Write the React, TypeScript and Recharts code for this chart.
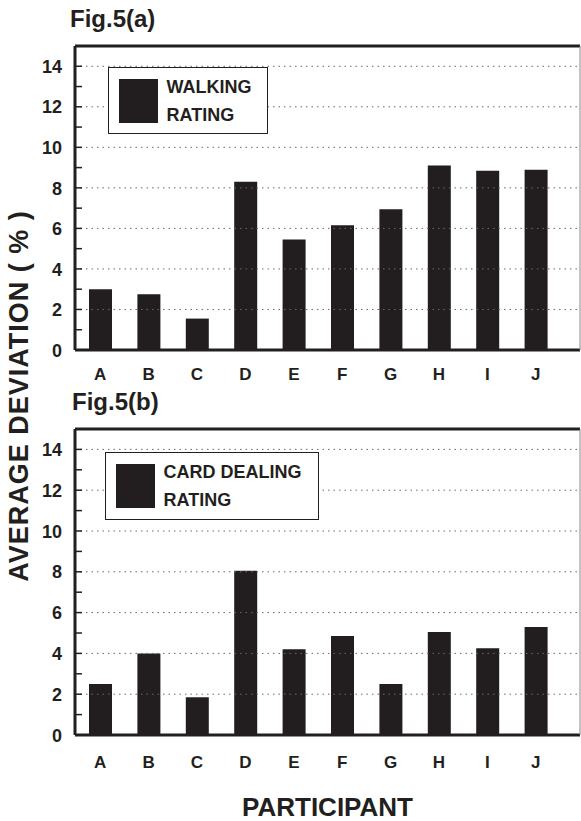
import * as React from 'react'
import { BarChart, Bar, XAxis, YAxis, ReferenceLine, Legend } from 'recharts'

const participants = ['A', 'B', 'C', 'D', 'E', 'F', 'G', 'H', 'I', 'J']
const walkingValues = [3.0, 2.75, 1.55, 8.3, 5.45, 6.15, 6.95, 9.1, 8.85, 8.9]
const cardDealingValues = [2.5, 4.0, 1.85, 8.05, 4.2, 4.85, 2.5, 5.05, 4.25, 5.3]
const yTicks = [0, 1, 2, 3, 4, 5, 6, 7, 8, 9, 10, 11, 12, 13, 14]
const gridValues = [2, 4, 6, 8, 10, 12, 14]
const walkingLegend = ['WALKING', 'RATING']
const cardLegend = ['CARD DEALING', 'RATING']

const ink = '#231f20'
const barColor = '#221d1e'
const font = '"Liberation Sans", Arial, Helvetica, sans-serif'

const walkingData = participants.map((name, i) => ({ name, value: walkingValues[i] }))
const cardData = participants.map((name, i) => ({ name, value: cardDealingValues[i] }))

const YTick = (props: any) => {
	const { x, y, payload } = props
	const v = payload.value
	return (
		<g>
			{v > 0 && <line x1={x + 13} x2={x + 20} y1={y} y2={y} stroke={ink} strokeWidth={1.5} />}
			{v % 2 === 0 && (
				<text x={x} y={y} dy="0.37em" textAnchor="end" fill={ink} fontSize={18} fontWeight={700} fontFamily={font}>
					{v}
				</text>
			)}
		</g>
	)
}

const legendBox = (lines: string[], width: number, height: number) => (props: any) => {
	const color = props.payload && props.payload[0] ? props.payload[0].color : barColor
	return (
		<div
			style={{
				position: 'relative',
				width,
				height,
				boxSizing: 'border-box',
				border: `1.5px solid ${ink}`,
				background: '#fff',
				fontFamily: font,
			}}
		>
			<div style={{ position: 'absolute', left: 10, top: 10.5, width: 39, height: 44, background: color }} />
			<div
				style={{
					position: 'absolute',
					left: 57.5,
					top: 4.5,
					fontSize: 18,
					fontWeight: 700,
					lineHeight: '28px',
					color: ink,
					whiteSpace: 'nowrap',
				}}
			>
				{lines.map((l) => (
					<div key={l}>{l}</div>
				))}
			</div>
		</div>
	)
}

interface PanelProps {
	data: Array<{ name: string; value: number }>
	height: number
	top: number
	tickGap: number
	legendLines: string[]
	legendPos: { left: number; top: number; width: number; height: number }
	name: string
}

const Panel = ({ data, height, top, tickGap, legendLines, legendPos, name }: PanelProps) => (
	<BarChart width={581} height={height} data={data} margin={{ top, right: 0, left: 0, bottom: 0 }} barSize={23}>
		{gridValues.map((g) => (
			<ReferenceLine key={g} yAxisId="left" y={g} stroke="#6a6a6a" strokeWidth={1} strokeDasharray="1.5 4" />
		))}
		<ReferenceLine yAxisId="left" y={15} stroke={ink} strokeWidth={3} />
		<XAxis
			dataKey="name"
			height={40}
			tickLine={false}
			tickSize={0}
			tickMargin={tickGap}
			padding={{ left: 1, right: 20 }}
			axisLine={{ stroke: ink, strokeWidth: 3 }}
			tick={{ fill: ink, fontSize: 17, fontWeight: 700, fontFamily: font }}
		/>
		<YAxis
			yAxisId="left"
			width={75}
			domain={[0, 15]}
			ticks={yTicks}
			interval={0}
			tickLine={false}
			tickSize={0}
			tickMargin={13}
			axisLine={{ stroke: ink, strokeWidth: 3 }}
			tick={<YTick />}
		/>
		<YAxis yAxisId="right" orientation="right" width={1} tick={false} tickLine={false} axisLine={{ stroke: '#888', strokeWidth: 1 }} />
		<Legend
			layout="horizontal"
			verticalAlign="middle"
			align="center"
			content={legendBox(legendLines, legendPos.width, legendPos.height)}
			wrapperStyle={{ left: legendPos.left, top: legendPos.top, width: legendPos.width, height: legendPos.height }}
		/>
		<Bar yAxisId="left" dataKey="value" name={name} fill={barColor} isAnimationActive={false} />
	</BarChart>
)

const titleStyle: React.CSSProperties = {
	position: 'absolute',
	fontFamily: font,
	fontWeight: 700,
	fontSize: 24,
	lineHeight: 1,
	color: ink,
	whiteSpace: 'nowrap',
}

export default function App() {
	return (
		<div style={{ position: 'absolute', left: 0, top: 0, width: 581, height: 821, background: '#fff', overflow: 'hidden' }}>
			<div style={{ ...titleStyle, left: 70, top: 7 }}>Fig.5(a)</div>
			<div style={{ position: 'absolute', left: 0, top: 0 }}>
				<Panel
					data={walkingData}
					height={390}
					top={46}
					tickGap={18}
					legendLines={walkingLegend}
					legendPos={{ left: 108, top: 67, width: 160, height: 67 }}
					name="WALKING RATING"
				/>
			</div>
			<div style={{ ...titleStyle, left: 72, top: 390 }}>Fig.5(b)</div>
			<div style={{ position: 'absolute', left: 0, top: 390 }}>
				<Panel
					data={cardData}
					height={385}
					top={39}
					tickGap={21}
					legendLines={cardLegend}
					legendPos={{ left: 105, top: 62, width: 214, height: 68 }}
					name="CARD DEALING RATING"
				/>
			</div>
			<div
				style={{
					position: 'absolute',
					left: 19,
					top: 396,
					transform: 'translate(-50%, -50%) rotate(-90deg)',
					fontFamily: font,
					fontWeight: 700,
					fontSize: 27,
					letterSpacing: 1,
					lineHeight: 1,
					color: ink,
					whiteSpace: 'nowrap',
				}}
			>
				AVERAGE DEVIATION ( % )
			</div>
			<div
				style={{
					position: 'absolute',
					left: 75,
					width: 505,
					top: 794,
					textAlign: 'center',
					fontFamily: font,
					fontWeight: 700,
					fontSize: 26,
					lineHeight: 1,
					color: ink,
				}}
			>
				PARTICIPANT
			</div>
		</div>
	)
}
